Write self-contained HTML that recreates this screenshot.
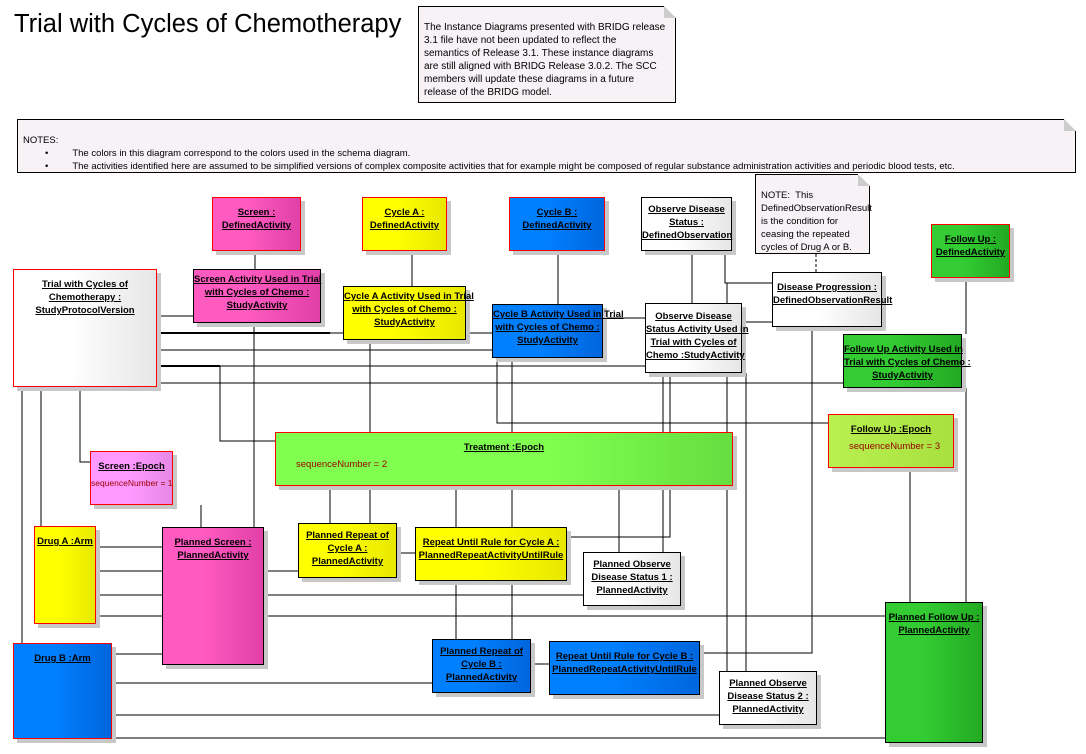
<!DOCTYPE html>
<html><head><meta charset="utf-8"><style>
body{margin:0;width:1086px;height:754px;background:#fff;position:relative;overflow:hidden;font-family:"Liberation Sans",sans-serif}
.b{position:absolute;box-sizing:border-box;border:1px solid #000;box-shadow:4px 4px 0 #c8c8c8;font-size:9.5px;font-weight:bold;text-align:center;line-height:13px;color:#000;padding-top:8px;white-space:nowrap}
.b u{text-decoration:underline}
.r{border:1px solid #f00}
.pk{background:linear-gradient(90deg,#ff5ac0 40%,#e040a8)}
.ye{background:linear-gradient(90deg,#ffff00 40%,#e8e800)}
.bl{background:linear-gradient(90deg,#0080ff 40%,#0066dd)}
.wh{background:linear-gradient(90deg,#fff 40%,#e6e6e6)}
.gr{background:linear-gradient(90deg,#33cc33 40%,#22aa22)}
.attr{font-weight:normal;color:#900;font-size:9.5px}
.note{position:absolute;box-sizing:border-box;border:1px solid #000;background:#f6f2f6;font-size:9.5px;line-height:13px;padding:4px 5px;white-space:nowrap}
.note:after{content:"";position:absolute;right:-1px;top:-1px;border-style:solid;border-width:0 12px 12px 0;border-color:#fff #fff #ccc #ccc}
svg{position:absolute;left:0;top:0}
</style></head><body>
<div style="position:absolute;left:14px;top:10px;font-size:25.5px;">Trial with Cycles of Chemotherapy</div>
<div class="note" style="left:418px;top:6px;width:258px;height:97px;padding-top:14px;font-size:10px">The Instance Diagrams presented with BRIDG release<br>3.1 file have not been updated to reflect the<br>semantics of Release 3.1. These instance diagrams<br>are still aligned with BRIDG Release 3.0.2. The SCC<br>members will update these diagrams in a future<br>release of the BRIDG model.</div>
<div class="note" style="left:17px;top:119px;width:1059px;height:54px;padding-top:14px;font-size:9.5px">NOTES:<br><span style="padding-left:22px">•</span><span style="padding-left:24px">The colors in this diagram correspond to the colors used in the schema diagram.</span><br><span style="padding-left:22px">•</span><span style="padding-left:24px">The activities identified here are assumed to be simplified versions of complex composite activities that for example might be composed of regular substance administration activities and periodic blood tests, etc.</span></div>
<div class="note" style="left:755px;top:174px;width:115px;height:80px;padding-top:14px;font-size:9.5px">NOTE:&nbsp; This<br>DefinedObservationResult<br>is the condition for<br>ceasing the repeated<br>cycles of Drug A or B.</div>

<svg width="1086" height="754" stroke="#000" stroke-width="1" fill="none">
<path d="M255 251V269M412 251V286M558 251V304M692 251V303M725 251V283H772M966 278V334"/>
<path d="M816 254V272" stroke-dasharray="3,2"/>
<path d="M157 316H193M157 333H492M157 350H492M157 366H645M157 383H843"/>
<path d="M157 333H330M157 366H220" stroke-width="2"/>
<path d="M220 366V441H275M80 387V462H90M41 387V526M22 387V643"/>
<path d="M254 323V527M370 340V523M512 358V639M497 358V423H828M201 505V527M330 486V523M456 486V639M619 486V552"/>
<path d="M96 547H162M96 571H298M96 595H583M96 616H885M112 654H162M112 683H432M112 715H719M112 738H885"/>
<path d="M397 553H415M567 537H670V322H772M663 373V552M531 664H549M812 327V653H700M746 373V671M727 283V671M910 468V602M966 388V602M603 318H665"/>
</svg>

<div class="b r pk" style="left:212px;top:197px;width:89px;height:54px"><u>Screen :</u><br><u>DefinedActivity</u></div>
<div class="b r ye" style="left:362px;top:197px;width:85px;height:54px"><u>Cycle A :</u><br><u>DefinedActivity</u></div>
<div class="b r bl" style="left:509px;top:197px;width:96px;height:54px"><u>Cycle B :</u><br><u>DefinedActivity</u></div>
<div class="b wh" style="left:641px;top:197px;width:91px;height:54px;padding-top:5px"><u>Observe Disease</u><br><u>Status :</u><br><u>DefinedObservation</u></div>
<div class="b r gr" style="left:931px;top:224px;width:79px;height:54px"><u>Follow Up :</u><br><u>DefinedActivity</u></div>
<div class="b r wh" style="left:13px;top:269px;width:144px;height:118px"><u>Trial with Cycles of</u><br><u>Chemotherapy :</u><br><u>StudyProtocolVersion</u></div>
<div class="b pk" style="left:193px;top:269px;width:128px;height:54px;padding-top:3px"><u>Screen Activity Used in Trial</u><br><u>with Cycles of Chemo :</u><br><u>StudyActivity</u></div>
<div class="b ye" style="left:343px;top:286px;width:123px;height:54px;padding-top:3px"><u>Cycle A Activity Used in Trial</u><br><u>with Cycles of Chemo :</u><br><u>StudyActivity</u></div>
<div class="b bl" style="left:492px;top:304px;width:111px;height:54px;padding-top:3px"><u>Cycle B Activity Used in Trial</u><br><u>with Cycles of Chemo :</u><br><u>StudyActivity</u></div>
<div class="b wh" style="left:645px;top:303px;width:97px;height:70px;padding-top:6px"><u>Observe Disease</u><br><u>Status Activity Used in</u><br><u>Trial with Cycles of</u><br><u>Chemo :StudyActivity</u></div>
<div class="b wh" style="left:772px;top:272px;width:110px;height:55px"><u>Disease Progression :</u><br><u>DefinedObservationResult</u></div>
<div class="b gr" style="left:843px;top:334px;width:119px;height:54px;padding-top:8px"><u>Follow Up Activity Used in</u><br><u>Trial with Cycles of Chemo :</u><br><u>StudyActivity</u></div>
<div class="b r" style="left:828px;top:414px;width:126px;height:54px;background:linear-gradient(90deg,#b8f050,#a8e040)"><u>Follow Up :Epoch</u><div class="attr" style="text-align:left;padding:4px 0 0 20px">sequenceNumber = 3</div></div>
<div class="b r" style="left:275px;top:432px;width:458px;height:54px;background:linear-gradient(90deg,#80ff50 60%,#66dd40)"><u>Treatment :Epoch</u><div class="attr" style="text-align:left;padding:4px 0 0 20px">sequenceNumber = 2</div></div>
<div class="b r" style="left:90px;top:451px;width:83px;height:54px;background:linear-gradient(90deg,#ff99ff 50%,#e688e6)"><u>Screen :Epoch</u><div class="attr" style="padding-top:4px;font-size:8.5px">sequenceNumber = 1</div></div>
<div class="b r ye" style="left:34px;top:526px;width:62px;height:98px"><u>Drug A :Arm</u></div>
<div class="b pk" style="left:162px;top:527px;width:102px;height:138px"><u>Planned Screen :</u><br><u>PlannedActivity</u></div>
<div class="b ye" style="left:298px;top:523px;width:99px;height:55px;padding-top:5px"><u>Planned Repeat of</u><br><u>Cycle A :</u><br><u>PlannedActivity</u></div>
<div class="b ye" style="left:415px;top:527px;width:152px;height:54px"><u>Repeat Until Rule for Cycle A :</u><br><u>PlannedRepeatActivityUntilRule</u></div>
<div class="b wh" style="left:583px;top:552px;width:98px;height:54px;padding-top:5px"><u>Planned Observe</u><br><u>Disease Status 1 :</u><br><u>PlannedActivity</u></div>
<div class="b r bl" style="left:13px;top:643px;width:99px;height:96px"><u>Drug B :Arm</u></div>
<div class="b bl" style="left:432px;top:639px;width:99px;height:54px;padding-top:5px"><u>Planned Repeat of</u><br><u>Cycle B :</u><br><u>PlannedActivity</u></div>
<div class="b bl" style="left:549px;top:641px;width:151px;height:54px"><u>Repeat Until Rule for Cycle B :</u><br><u>PlannedRepeatActivityUntilRule</u></div>
<div class="b wh" style="left:719px;top:671px;width:98px;height:54px;padding-top:5px"><u>Planned Observe</u><br><u>Disease Status 2 :</u><br><u>PlannedActivity</u></div>
<div class="b gr" style="left:885px;top:602px;width:98px;height:141px"><u>Planned Follow Up :</u><br><u>PlannedActivity</u></div>
</body></html>
